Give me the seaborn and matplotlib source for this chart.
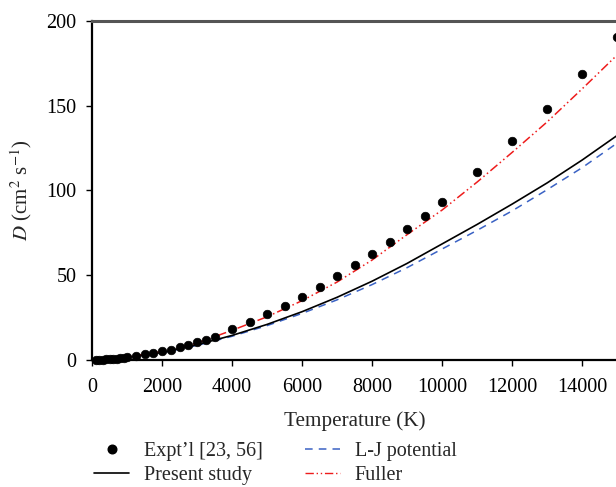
import matplotlib
matplotlib.use("Agg")
import matplotlib.pyplot as plt
import seaborn as sns
import pandas as pd
from matplotlib.lines import Line2D

# ---- data ----
expt_T = [100, 200, 300, 400, 500, 600, 700, 800, 900, 1000, 1250, 1500, 1750, 2000,
          2250, 2500, 2750, 3000, 3250, 3500, 4000, 4500, 5000, 5500, 6000, 6500,
          7000, 7500, 8000, 8500, 9000, 9500, 10000, 11000, 12000, 13000, 14000, 15000]
expt_D = [0.05, 0.1, 0.2, 0.3, 0.45, 0.6, 0.8, 1.0, 1.2, 1.5, 2.4, 3.4, 4.2, 5.2,
          6.1, 7.6, 8.8, 10.5, 11.8, 13.8, 18, 22.3, 27, 32, 37.3, 43.2,
          49.7, 56, 62.6, 69.6, 77, 85, 93, 111, 129, 148, 169, 190.5]

curve_T = [0, 1000, 2000, 3000, 4000, 5000, 6000, 7000, 8000, 9000, 10000,
           11000, 12000, 13000, 14000, 15000]
present_D = [0.3, 1.5, 4.5, 9.0, 14.5, 21.0, 28.5, 37.0, 46.5, 57.0, 68.5,
             80.0, 92.0, 104.5, 118.0, 132.5]
lj_D = [0.2, 1.2, 4.2, 8.6, 14.0, 20.3, 27.5, 35.5, 44.5, 54.5, 65.5,
        76.5, 88.0, 100.5, 113.5, 128.0]
fuller_D = [0.2, 1.8, 5.0, 10.0, 17.5, 25.5, 35.0, 46.0, 59.0, 74.0, 88.5,
            105.0, 122.5, 140.5, 160.0, 180.0]

xticks = [0, 2000, 4000, 6000, 8000, 10000, 12000, 14000]
yticks = [0, 50, 100, 150, 200]

sns.set_theme(style="ticks")
plt.rcParams['font.family'] = ['Liberation Serif', 'DejaVu Serif']
plt.rcParams['mathtext.fontset'] = 'stix'

fig = plt.figure(figsize=(6.16, 4.87), dpi=100)
ax = fig.add_axes([92/616, 1 - 360/487, 1 - 92/616 + 0.002, (360 - 21)/487])

df_e = pd.DataFrame({"T": expt_T, "D": expt_D})
df_c = pd.DataFrame({"T": curve_T, "present": present_D, "lj": lj_D, "fuller": fuller_D})

blue = '#3a62c4'
red = '#ee1c1c'
sns.lineplot(data=df_c, x="T", y="lj", ax=ax, color=blue, lw=1.1,
             dashes=False, linestyle=(0, (5, 4)))
sns.lineplot(data=df_c, x="T", y="present", ax=ax, color='black', lw=1.2)
sns.lineplot(data=df_c, x="T", y="fuller", ax=ax, color=red, lw=1.1,
             linestyle=(0, (6, 2, 1, 2, 1, 2)))
sns.scatterplot(data=df_e, x="T", y="D", ax=ax, color='black', s=38,
                edgecolor='black', linewidth=0.5, zorder=5, clip_on=False)

ax.set_xlim(0, 15000)
ax.set_ylim(0, 200)
ax.set_xticks(xticks)
ax.set_yticks(yticks)
ax.tick_params(axis='both', direction='out', length=4, width=1.0, labelsize=14.5,
               colors='black', pad=7)
ax.tick_params(axis='x', pad=9)
ax.set_xlabel("Temperature (K)", fontsize=15.2, labelpad=10.5)
ax.set_ylabel("$D$ (cm$^2$ s$^{-1}$)", fontsize=15, labelpad=9)

for s in ['left', 'bottom']:
    ax.spines[s].set_color('black')
    ax.spines[s].set_linewidth(1.6)
ax.spines['top'].set_visible(True)
ax.spines['top'].set_color('#555555')
ax.spines['top'].set_linewidth(2.2)
ax.spines['right'].set_visible(False)

handles = [
    Line2D([], [], marker='o', color='black', linestyle='None', markersize=6.2),
    Line2D([], [], color='black', lw=1.2),
    Line2D([], [], color=blue, lw=1.1, linestyle=(0, (5, 4))),
    Line2D([], [], color=red, lw=1.0, linestyle=(0, (6, 2, 1, 2, 1, 2))),
]
labels = ["Expt\u2019l [23, 56]", "Present study", "L-J potential", "Fuller"]
fig.legend(handles, labels, ncol=2, loc='upper left', bbox_to_anchor=(94/616, 1 - 442/487),
           frameon=False, fontsize=14.5, handlelength=1.75, handletextpad=0.75,
           columnspacing=2.05, labelspacing=0.25, borderaxespad=0, borderpad=0)

fig.savefig("out.png", dpi=100)
